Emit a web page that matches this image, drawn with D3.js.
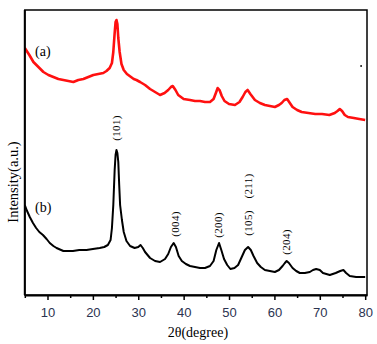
<!DOCTYPE html>
<html>
<head>
<meta charset="utf-8">
<script src="https://cdn.jsdelivr.net/npm/d3@7"></script>
<style>
  body { margin: 0; background: white; }
</style>
</head>
<body>
<div id="container"></div>
<script>
// 2theta (degree) and intensity (a.u.)
let angleA = [5.0, 6.0, 6.9, 8.0, 9.1, 10.2, 11.3, 12.4, 13.5, 14.6, 15.7, 16.8, 17.9, 19.0, 20.1, 21.2, 22.3, 23.0, 23.7, 24.2,
  24.5, 24.8, 25.0, 25.2, 25.4, 25.6, 25.9, 26.3, 26.8, 27.5, 28.1, 29.0, 29.6, 30.4, 31.5, 32.6, 33.7, 34.8, 35.8, 36.6,
  37.2, 37.6, 38.2, 38.8, 40.0, 41.4, 42.5, 43.6, 44.7, 45.8, 46.6, 47.1, 47.5, 47.9, 48.4, 49.0, 50.0, 51.3, 52.3, 53.0,
  53.6, 54.1, 54.7, 55.7, 56.8, 57.9, 59.0, 60.1, 61.0, 61.6, 62.2, 62.8, 63.4, 64.0, 65.0, 66.0, 67.5, 69.0, 70.5, 72.1,
  73.3, 73.9, 74.4, 74.9, 75.5, 76.2, 77.5, 78.7, 80.0];
let intensityA = [247, 240, 233, 228, 223, 220, 218, 216, 215, 214, 213, 215, 216, 218, 220, 221, 222, 224, 227, 232,
  243, 262, 273, 275, 271, 257, 243, 231, 225, 221, 219, 216, 215, 213, 210, 206, 203, 200, 202, 205,
  208, 209, 205, 200, 196, 195, 194, 194, 193, 193, 196, 202, 207, 205, 199, 194, 191, 190, 193, 198,
  203, 205, 201, 195, 192, 190, 189, 188, 190, 192, 195, 196, 192, 188, 185, 183, 182, 181, 181, 180,
  182, 184, 186, 184, 180, 178, 177, 176, 175];

let angleB = [5.0, 5.5, 6.1, 6.8, 7.5, 8.2, 9.0, 9.8, 10.5, 11.3, 12.0, 13.5, 15.6, 17.0, 18.6, 20.0, 21.5, 22.5, 23.3, 23.9,
  24.2, 24.5, 24.8, 25.0, 25.2, 25.4, 25.6, 25.8, 26.0, 26.4, 26.8, 27.4, 28.2, 29.2, 30.0, 30.5, 31.0, 31.5, 32.6, 33.7,
  34.8, 35.9, 36.6, 37.2, 37.8, 38.3, 38.9, 39.6, 40.5, 41.4, 42.5, 43.6, 44.7, 45.8, 46.6, 47.2, 47.8, 48.3, 48.9, 49.6,
  50.3, 51.2, 52.0, 52.8, 53.5, 54.2, 54.8, 55.4, 56.2, 57.0, 57.9, 59.0, 60.1, 61.0, 61.8, 62.3, 62.7, 63.2, 64.0, 64.8,
  65.6, 66.7, 67.8, 68.5, 69.2, 70.0, 70.7, 72.2, 73.5, 74.5, 75.2, 75.8, 76.6, 78.0, 80.0];
let intensityB = [90, 84, 78, 72, 67, 63, 60, 56, 52, 49, 47, 44, 44, 45, 45, 46, 47, 48, 50, 55,
  67, 90, 125, 140, 145, 142, 133, 110, 90, 75, 63, 54, 49, 47, 48, 50, 47, 43, 37, 34,
  33, 36, 41, 48, 52, 48, 39, 34, 31, 29, 28, 27, 27, 29, 34, 45, 52, 45, 36, 30,
  26, 27, 30, 38, 45, 48, 45, 39, 32, 28, 25, 24, 23, 25, 29, 32, 34, 32, 27, 24,
  22, 22, 23, 25, 26, 25, 22, 20, 22, 24, 25, 22, 19, 18, 18];

let peakNames = ["(101)", "(004)", "(200)", "(105)", "(211)", "(204)"];
let peakAngles = [25.2, 38.0, 47.5, 54.1, 54.1, 62.6];
let peakLabelLevels = [167, 71, 70, 72, 109, 53];

let curveNames = ["(a)", "(b)"];
let curveNameLevels = [244, 88];

let tickValues = [10, 20, 30, 40, 50, 60, 70, 80];
let minorTickValues = [5, 15, 25, 35, 45, 55, 65, 75];

let w = 377;
let h = 344;
let plotLeft = 24.8, plotRight = 367, plotTop = 10, plotBottom = 295;

let viz = d3.select("#container")
  .append("svg")
    .attr("width", w)
    .attr("height", h)
    .style("background-color", "white")
;

let xScale = d3.scaleLinear().domain([5, 80.4]).range([plotLeft, plotRight]);
let yScale = d3.scaleLinear().domain([0, 285]).range([plotBottom, plotTop]);

function toPoints(angles, values){
  return angles.map(function(a, i){ return [a, values[i]]; });
}

let line = d3.line()
  .x(function(d){ return xScale(d[0]); })
  .y(function(d){ return yScale(d[1]); })
;

viz.append("clipPath").attr("id", "plotclip")
  .append("rect")
    .attr("x", plotLeft).attr("y", plotTop)
    .attr("width", plotRight - plotLeft).attr("height", plotBottom - plotTop)
;

let plot = viz.append("g").attr("clip-path", "url(#plotclip)");

plot.append("path")
  .datum(toPoints(angleA, intensityA))
  .attr("d", line)
  .attr("fill", "none")
  .attr("stroke", "#ff1010")
  .attr("stroke-width", 2.6)
  .attr("stroke-linejoin", "round")
;

plot.append("path")
  .datum(toPoints(angleB, intensityB))
  .attr("d", line)
  .attr("fill", "none")
  .attr("stroke", "black")
  .attr("stroke-width", 2)
  .attr("stroke-linejoin", "round")
;

// stray dot near the right edge of curve (a)
viz.append("circle")
  .attr("cx", xScale(79.1))
  .attr("cy", yScale(229))
  .attr("r", 0.9)
  .attr("fill", "black")
;

// frame
viz.append("rect")
  .attr("x", plotLeft).attr("y", plotTop)
  .attr("width", plotRight - plotLeft).attr("height", plotBottom - plotTop)
  .attr("fill", "none")
  .attr("stroke", "black")
  .attr("stroke-width", 1.5)
;
viz.append("line")
  .attr("x1", plotLeft).attr("x2", plotLeft).attr("y1", plotTop).attr("y2", plotBottom)
  .attr("stroke", "black").attr("stroke-width", 2)
;

// x axis
let xAxis = d3.axisBottom(xScale)
  .tickValues(tickValues)
  .tickSize(5)
  .tickSizeOuter(0)
  .tickPadding(8)
  .tickFormat(d3.format("d"))
;
let axisG = viz.append("g")
  .attr("transform", "translate(0," + plotBottom + ")")
  .call(xAxis)
;
axisG.select(".domain").attr("stroke", "black").attr("stroke-width", 2);
axisG.selectAll(".tick line").attr("stroke", "black").attr("stroke-width", 1.5);
axisG.selectAll(".tick text")
  .style("font-family", "Arial, 'Liberation Sans', sans-serif")
  .style("font-size", "13px")
  .attr("fill", "#2b3350")
;

let minorAxis = d3.axisBottom(xScale)
  .tickValues(minorTickValues)
  .tickSize(3)
  .tickSizeOuter(0)
  .tickFormat("")
;
let minorG = viz.append("g")
  .attr("transform", "translate(0," + plotBottom + ")")
  .call(minorAxis)
;
minorG.select(".domain").remove();
minorG.selectAll(".tick line").attr("stroke", "black").attr("stroke-width", 1.5);

// axis titles
viz.append("text")
  .text("2θ(degree)")
  .attr("x", (plotLeft + plotRight) / 2 + 2)
  .attr("y", 337)
  .attr("text-anchor", "middle")
  .style("font-family", "'Liberation Serif', 'Times New Roman', serif")
  .style("font-size", "14px")
  .attr("fill", "black")
;

viz.append("text")
  .text("Intensity(a.u.)")
  .attr("transform", "translate(13,182) rotate(-90)")
  .attr("text-anchor", "middle")
  .attr("dominant-baseline", "central")
  .style("font-family", "'Liberation Serif', 'Times New Roman', serif")
  .style("font-size", "14.5px")
  .attr("fill", "black")
;

// curve names
viz.selectAll(".curvename").data(curveNames).enter()
  .append("text")
    .classed("curvename", true)
    .text(function(d){ return d; })
    .attr("x", 35)
    .attr("y", function(d, i){ return yScale(curveNameLevels[i]); })
    .attr("dominant-baseline", "central")
    .style("font-family", "'Liberation Serif', 'Times New Roman', serif")
    .style("font-size", "14px")
    .attr("fill", "black")
;

// peak indices
viz.selectAll(".peak").data(peakNames).enter()
  .append("text")
    .classed("peak", true)
    .text(function(d){ return d; })
    .attr("transform", function(d, i){
      return "translate(" + xScale(peakAngles[i]) + "," + yScale(peakLabelLevels[i]) + ") rotate(-90)";
    })
    .attr("text-anchor", "middle")
    .attr("dominant-baseline", "central")
    .style("font-family", "'Liberation Serif', 'Times New Roman', serif")
    .style("font-size", "11px")
    .style("letter-spacing", "0.3px")
    .attr("fill", "black")
;
</script>
</body>
</html>
